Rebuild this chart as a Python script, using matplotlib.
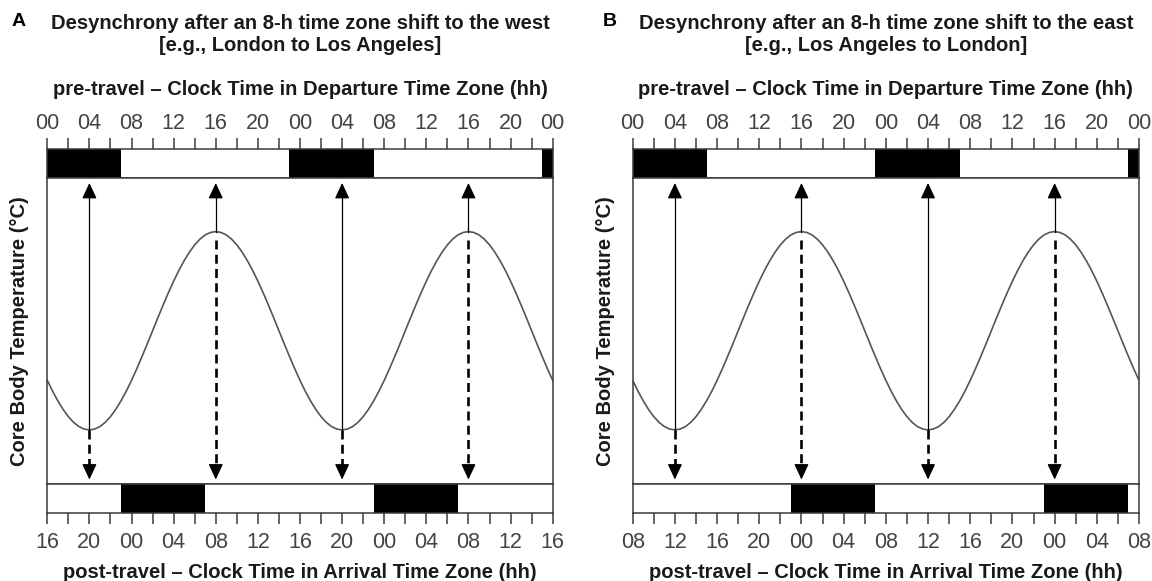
import matplotlib
matplotlib.use("Agg")
import matplotlib.pyplot as plt
from matplotlib.ticker import MultipleLocator, FuncFormatter

plt.rcParams['font.family'] = ['Liberation Sans', 'DejaVu Sans']

# x axis: hours on the departure clock, two full days
hours_shown = 48
major_step = 4
minor_step = 2

# sleep window in local clock time (hh)
sleep_start = 23
sleep_end = 7

# relative core body temperature read every half hour from the curve (00:00..23:30, departure clock)
temp_step = 0.5
temp_day = [-0.500, -0.609, -0.707, -0.793, -0.866, -0.924, -0.966, -0.991,
            -1.000, -0.991, -0.966, -0.924, -0.866, -0.793, -0.707, -0.609,
            -0.500, -0.383, -0.259, -0.131, 0.000, 0.131, 0.259, 0.383,
            0.500, 0.609, 0.707, 0.793, 0.866, 0.924, 0.966, 0.991,
            1.000, 0.991, 0.966, 0.924, 0.866, 0.793, 0.707, 0.609,
            0.500, 0.383, 0.259, 0.131, 0.000, -0.131, -0.259, -0.383]
temp_nadir_hours = [4, 28]
temp_peak_hours = [16, 40]

panel_letters = ["A", "B"]
panel_titles = [
    "Desynchrony after an 8-h time zone shift to the west\n[e.g., London to Los Angeles]",
    "Desynchrony after an 8-h time zone shift to the east\n[e.g., Los Angeles to London]",
]
zone_shift = [-8, 8]  # arrival clock minus departure clock

top_label = "pre-travel \u2013 Clock Time in Departure Time Zone (hh)"
bottom_label = "post-travel \u2013 Clock Time in Arrival Time Zone (hh)"
y_label = "Core Body Temperature (\u00b0C)"

W, H = 1152, 581
LINE = "#3a3a3a"
TXT = "#1a1a1a"
TICKTXT = "#444444"
FS = 14.5


def sleep_bars(shift):
    """black sleep blocks, as (start, width) on the departure-clock axis"""
    length = (sleep_end - sleep_start) % 24
    bars = []
    for day in range(-1, 3):
        start = day * 24 + sleep_start - shift
        end = start + length
        start, end = max(start, 0), min(end, hours_shown)
        if end > start:
            bars.append((start, end - start))
    return bars


def temperature():
    """the daily curve repeated over the two days shown"""
    days = hours_shown // 24
    values = temp_day * days + [temp_day[0]]
    hours = [i * temp_step for i in range(len(values))]
    return hours, values


def style_bar_axis(ax, shift, side):
    ax.set_xlim(0, hours_shown)
    ax.set_ylim(0, 1)
    ax.set_yticks([])
    ax.xaxis.set_major_locator(MultipleLocator(major_step))
    ax.xaxis.set_minor_locator(MultipleLocator(minor_step))
    ax.xaxis.set_major_formatter(FuncFormatter(lambda x, p: f"{int(round(x + shift)) % 24:02d}"))
    ax.tick_params(axis='x', which='both', direction='out', length=8, width=1.1,
                   color=LINE, top=(side == 'top'), bottom=(side == 'bottom'),
                   labeltop=(side == 'top'), labelbottom=(side == 'bottom'))
    ax.tick_params(axis='x', which='major', labelsize=15.5, labelcolor=TICKTXT,
                   pad=3 if side == 'top' else 6)
    for s in ax.spines.values():
        s.set_color(LINE)
        s.set_linewidth(1.1)
    ax.broken_barh(sleep_bars(shift), (0, 1), facecolors='black', edgecolors='none')


def arrow_head(ax, x, tip, base):
    """solid triangular head pointing from base to tip"""
    ax.annotate("", xy=(x, tip), xytext=(x, base),
                arrowprops=dict(arrowstyle='-|>,head_length=0.6,head_width=0.28',
                                mutation_scale=16, color='black', lw=0.9,
                                shrinkA=0, shrinkB=0))


def draw_panel(fig, left_px, width_px, letter_px, letter, title, shift):
    x0 = left_px / W
    w = width_px / W
    ax_top = fig.add_axes([x0, 1 - 178 / H, w, 29 / H])
    ax_main = fig.add_axes([x0, 1 - 484 / H, w, 306 / H])
    ax_bot = fig.add_axes([x0, 1 - 513 / H, w, 29 / H])

    style_bar_axis(ax_top, 0, 'top')
    style_bar_axis(ax_bot, shift, 'bottom')
    ax_top.xaxis.set_label_position('top')
    ax_top.set_xlabel(top_label, fontsize=FS, fontweight='bold', color=TXT, labelpad=12.5)
    ax_bot.set_xlabel(bottom_label, fontsize=FS, fontweight='bold', color=TXT, labelpad=7)

    hours, temps = temperature()
    ax_main.plot(hours, temps, color="#555555", lw=1.2)
    ax_main.set_xlim(0, hours_shown)
    ax_main.set_ylim(-1.545, 1.54)
    ax_main.set_xticks([])
    ax_main.set_yticks([])
    for s in ax_main.spines.values():
        s.set_color(LINE)
        s.set_linewidth(1.1)
    ax_main.set_ylabel(y_label, fontsize=FS, fontweight='bold', color=TXT, labelpad=13)

    top_tip, bot_tip, head_len = 1.49, -1.50, 0.11
    # solid arrows up to the pre-travel clock
    for hr in temp_nadir_hours + temp_peak_hours:
        t = temps[int(hr / temp_step)]
        ax_main.plot([hr, hr], [t, top_tip - head_len], color='black', lw=0.9)
        arrow_head(ax_main, hr, top_tip, top_tip - head_len)
    # dashed arrows down to the post-travel clock
    for hr in temp_nadir_hours + temp_peak_hours:
        t = temps[int(hr / temp_step)]
        start = t - 0.09 if hr in temp_peak_hours else t
        ax_main.plot([hr, hr], [start, bot_tip + head_len], color='black', lw=1.9,
                     dashes=(3.4, 2.0), dash_capstyle='butt')
        arrow_head(ax_main, hr, bot_tip, bot_tip + head_len)

    cx = (left_px + width_px / 2) / W
    fig.text(cx, 1 - 14 / H, title, ha='center', va='top', fontsize=FS,
             fontweight='bold', color=TXT, linespacing=1.2)
    fig.text(letter_px / W, 1 - 22 / H, letter, ha='left', va='center',
             fontsize=14, fontweight='bold', color='black')


def main():
    fig = plt.figure(figsize=(W / 100, H / 100), dpi=100)
    lefts = [47.3, 632.7]
    widths = [505.4, 506.3]
    letters_x = [12, 603]
    for i in range(2):
        draw_panel(fig, lefts[i], widths[i], letters_x[i], panel_letters[i],
                   panel_titles[i], zone_shift[i])
    fig.savefig("out.png", dpi=100)


if __name__ == "__main__":
    main()
